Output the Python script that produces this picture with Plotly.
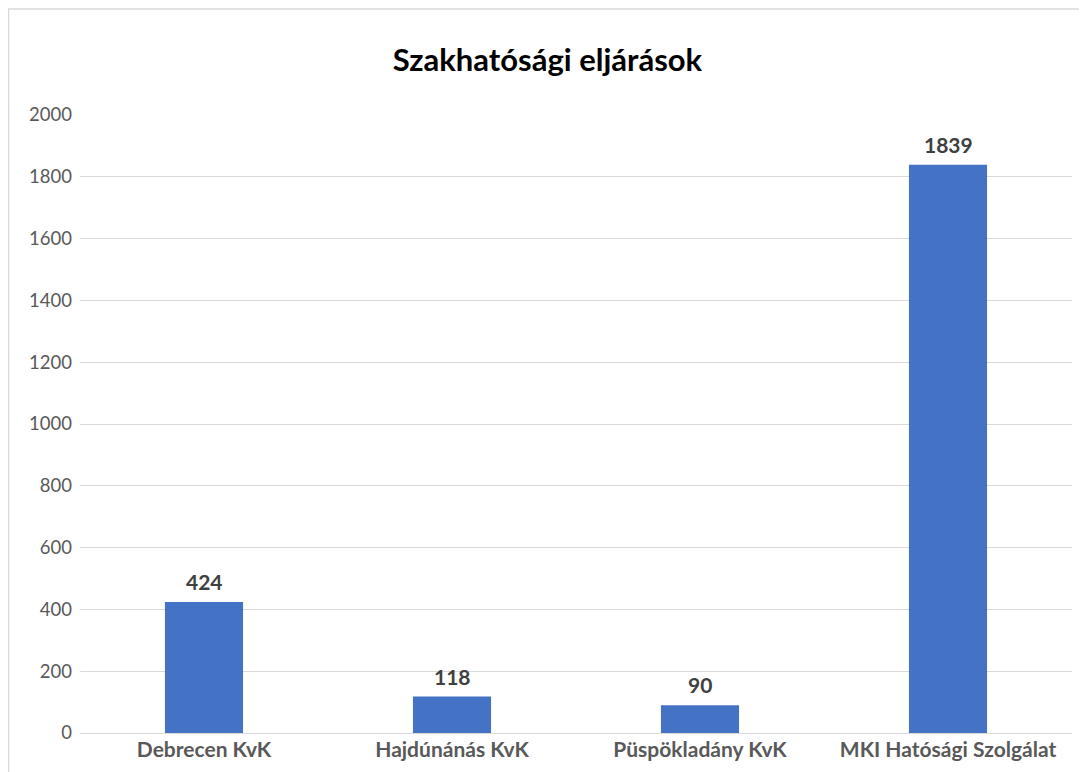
import plotly.graph_objects as go

categories = ["Debrecen KvK", "Hajdúnánás KvK", "Püspökladány KvK", "MKI Hatósági Szolgálat"]
values = [424, 118, 90, 1839]
y_ticks = [0, 200, 400, 600, 800, 1000, 1200, 1400, 1600, 1800, 2000]

# page has an 8px body margin; figure sized to fit the window
W, H = 1079, 764
L, R, T, B = 72, 15, 107, 39
pw, ph = W - L - R, H - T - B

fig = go.Figure(go.Bar(
    x=categories, y=values,
    marker=dict(color="#4472C4", line=dict(width=0)),
    width=0.315,
    cliponaxis=False,
))

for c, v in zip(categories, values):
    fig.add_annotation(x=c, y=v, text=f"<b>{v}</b>", showarrow=False,
                       xanchor="center", yanchor="bottom", yshift=6,
                       font=dict(family="Lato", size=21, color="#404040"))

fig.update_layout(
    width=W, height=H,
    margin=dict(l=L, r=R, t=T, b=B),
    paper_bgcolor="white", plot_bgcolor="white",
    title=dict(text="<b>Szakhatósági eljárások</b>", x=0.5, xanchor="center",
               y=1 - 52 / H, yanchor="middle",
               font=dict(family="Lato", size=31, color="#000000")),
    font=dict(family="Lato"),
    showlegend=False,
    xaxis=dict(showgrid=False, showline=False, zeroline=False,
               tickfont=dict(family="Lato", size=21, color="#595959", weight="bold"),
               ticks="", ticklabelstandoff=2),
    yaxis=dict(range=[0, 2000], tickvals=y_ticks, showgrid=True,
               gridcolor="#d9d9d9", gridwidth=1, zeroline=True,
               zerolinecolor="#d9d9d9", zerolinewidth=1, showline=False,
               tickfont=dict(family="Lato", size=18.5, color="#595959"),
               ticks="", ticklabelstandoff=7),
    shapes=[dict(type="rect", xref="paper", yref="paper",
                 x0=(0.5 - L) / pw, x1=(W + 20 - L) / pw,
                 y0=-(B + 20) / ph, y1=(H - B - 1) / ph,
                 line=dict(color="#d9d9d9", width=1.5), fillcolor="rgba(0,0,0,0)",
                 layer="below")],
)

fig.write_html("out.html")
